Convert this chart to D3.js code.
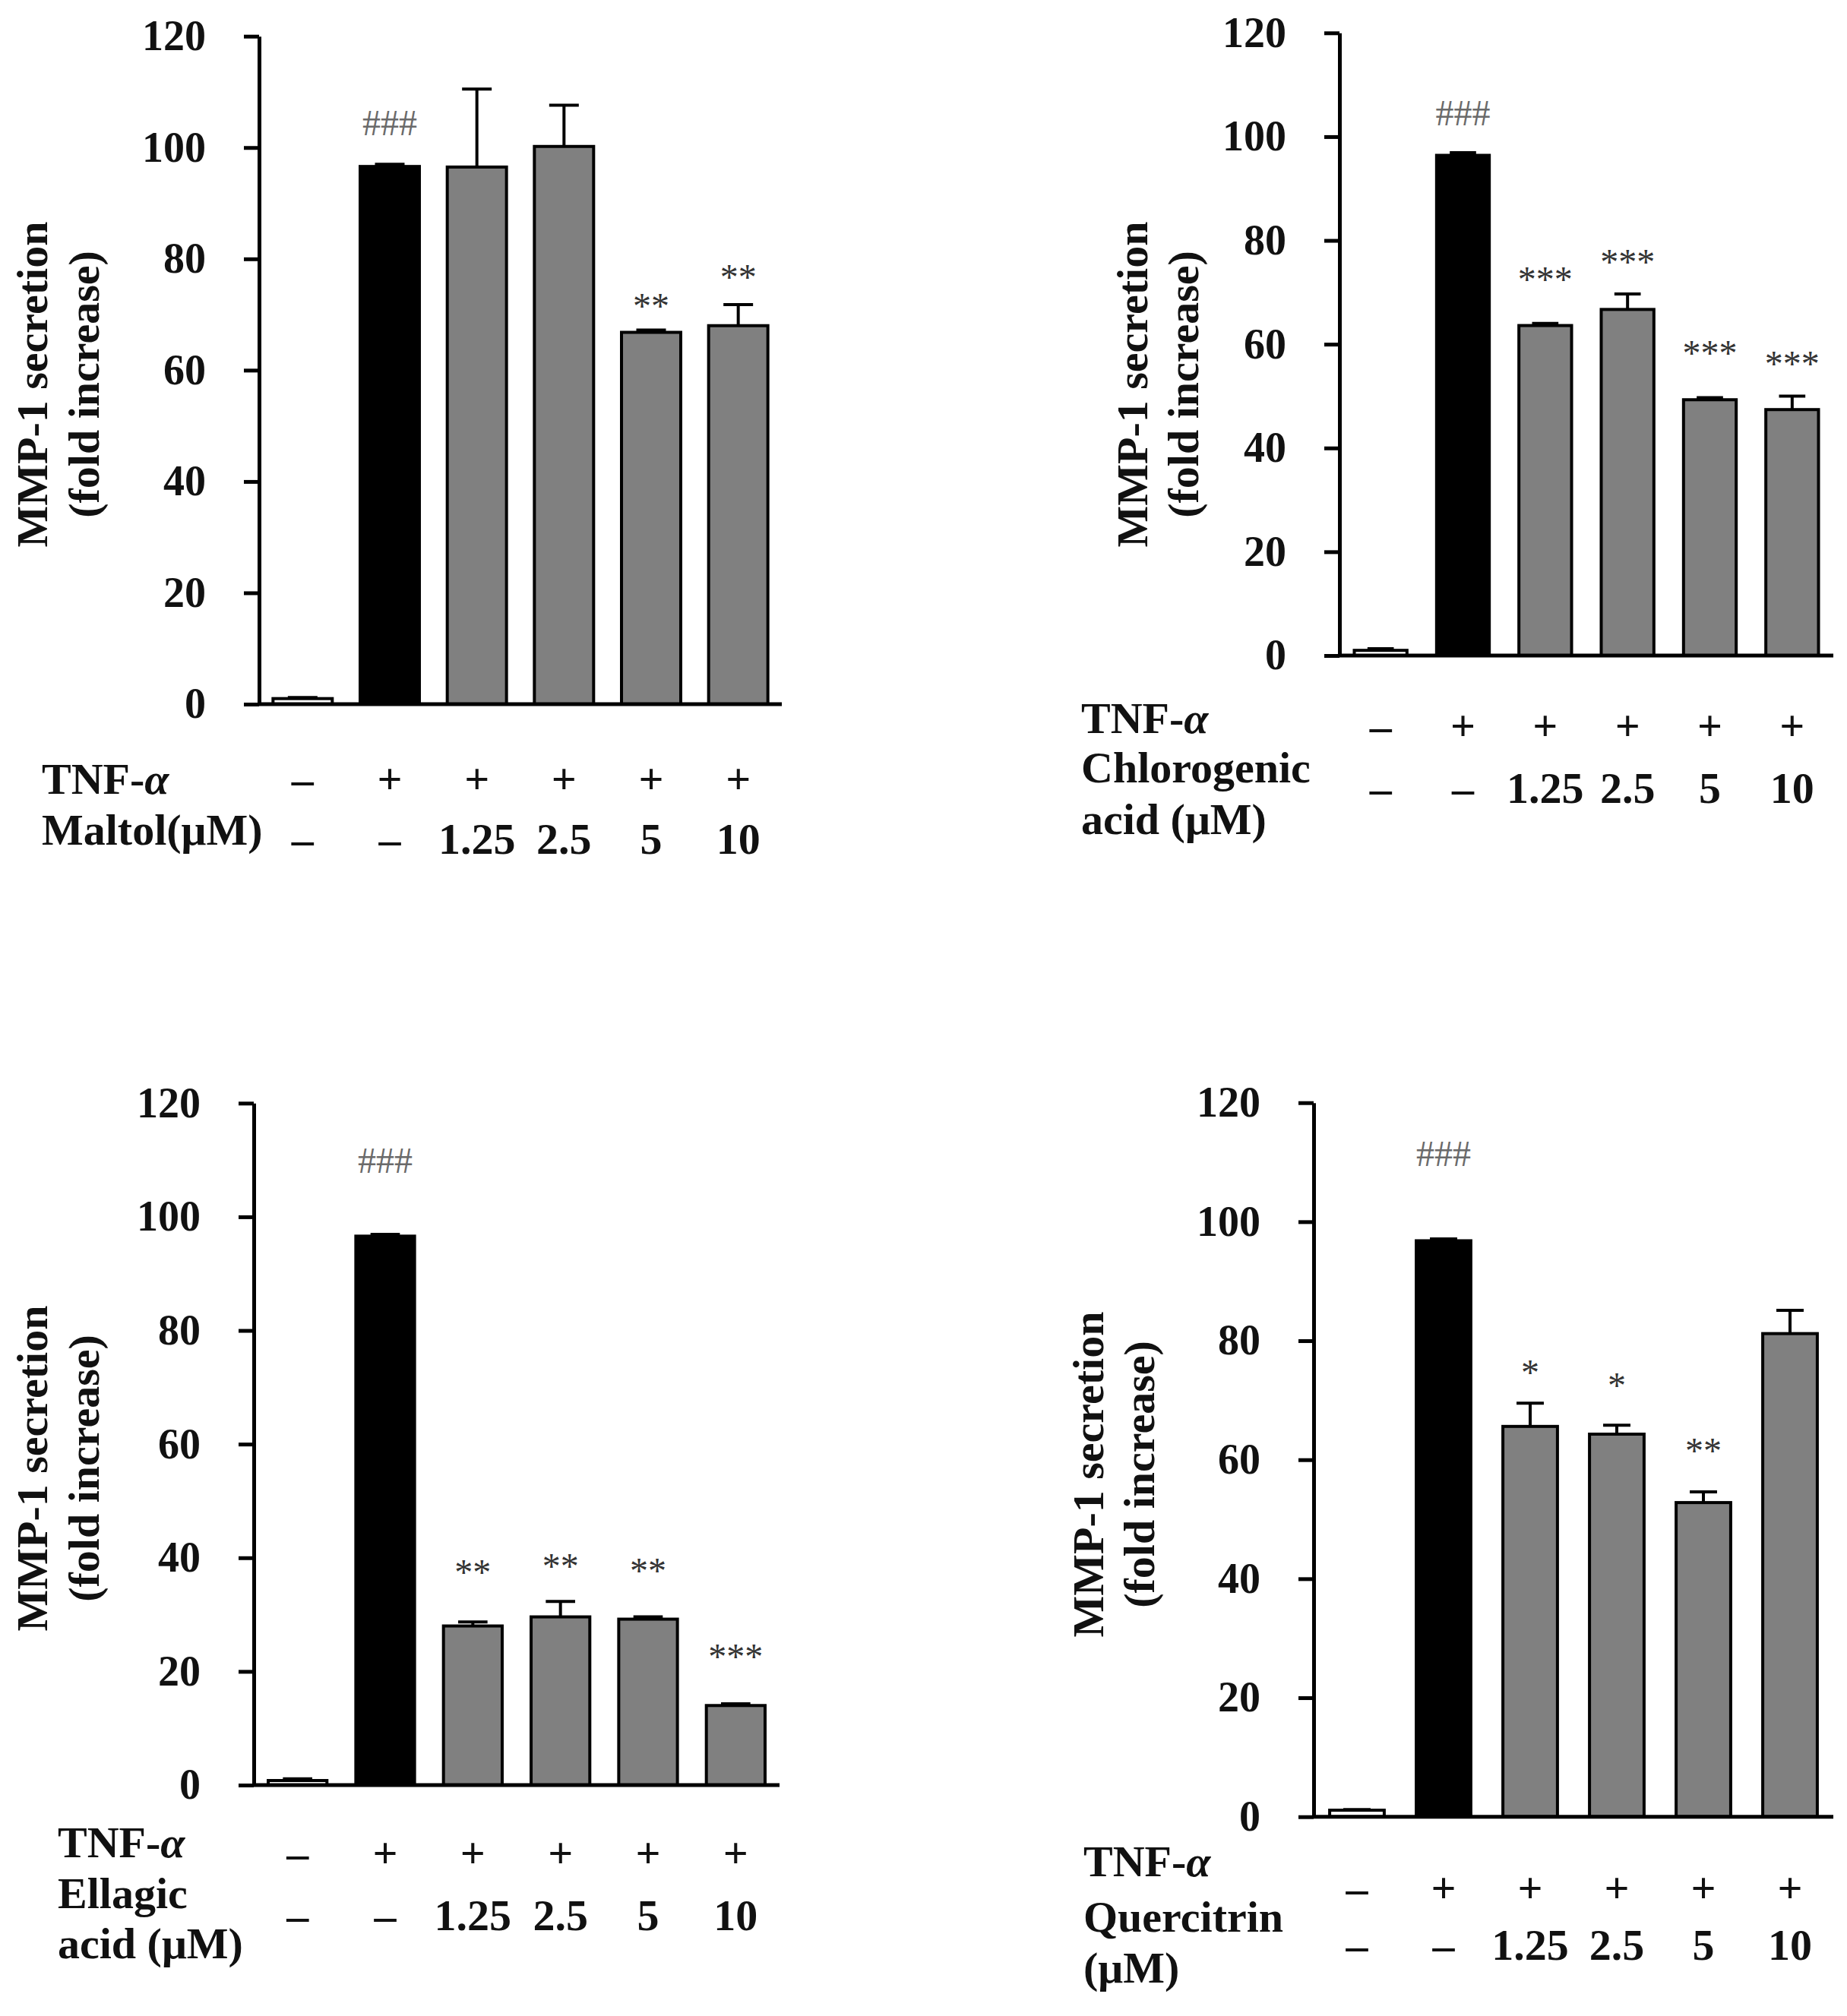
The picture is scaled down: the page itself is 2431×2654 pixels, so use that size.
<!DOCTYPE html>
<html>
<head>
<meta charset="utf-8">
<script src="https://cdn.jsdelivr.net/npm/d3@7"></script>
<style>
  body { margin: 0; background: #fff; }
  text { font-family: "Liberation Serif", "Times New Roman", serif; }
</style>
</head>
<body>
<svg id="canvas" width="2431" height="2654"></svg>
<script>
const canvas = d3.select("#canvas");

// shared categories / row labels
const groups = ["ctrl", "tnf", "d1", "d2", "d3", "d4"];
const tnfRow = ["–", "+", "+", "+", "+", "+"];
const doseRow = ["–", "–", "1.25", "2.5", "5", "10"];
const yTicks = [0, 20, 40, 60, 80, 100, 120];
const yTitle = ["MMP-1 secretion", "(fold increase)"];

// Maltol
const maltolMean = [1.0, 96.6, 96.5, 100.2, 66.8, 68.0];
const maltolErr = [0.2, 0.4, 14.0, 7.4, 0.4, 3.8];
const maltolMarks = ["", "###", "", "", "**", "**"];
const maltolMarkAt = [0, 104.4, 0, 0, 72.6, 77.8];
const maltolLabel = ["Maltol(μM)"];

// Chlorogenic acid
const chloroMean = [1.0, 96.4, 63.6, 66.7, 49.3, 47.4];
const chloroErr = [0.3, 0.5, 0.4, 3.0, 0.4, 2.6];
const chloroMarks = ["", "###", "***", "***", "***", "***"];
const chloroMarkAt = [0, 104.6, 73.6, 77.0, 59.5, 57.4];
const chloroLabel = ["Chlorogenic", "acid (μM)"];

// Ellagic acid
const ellagMean = [0.8, 96.6, 28.0, 29.6, 29.2, 14.0];
const ellagErr = [0.3, 0.3, 0.7, 2.7, 0.4, 0.3];
const ellagMarks = ["", "###", "**", "**", "**", "***"];
const ellagMarkAt = [0, 109.9, 38.5, 39.6, 38.8, 23.7];
const ellagLabel = ["Ellagic", "acid (μM)"];

// Quercitrin
const quercMean = [1.1, 96.8, 65.6, 64.3, 52.8, 81.2];
const quercErr = [0.1, 0.3, 3.9, 1.5, 1.8, 3.9];
const quercMarks = ["", "###", "*", "*", "**", ""];
const quercMarkAt = [0, 111.5, 75.7, 73.5, 62.5, 0];
const quercLabel = ["Quercitrin", "(μM)"];

const fills = ["#ffffff", "#000000", "#808080", "#808080", "#808080", "#808080"];

// layout for each panel (pixel geometry only)
const panels = [
  { mean: maltolMean, err: maltolErr, marks: maltolMarks, markAt: maltolMarkAt, label: maltolLabel,
    x0: 341, x1: 1029, yBot: 927, yTop: 47.7, pad: 0.32,
    titleY: 506, titleX: [62, 130],
    labelX: 55, tnfBase: 1045, labelBase: [1112], rowBase: [1045, 1124] },
  { mean: chloroMean, err: chloroErr, marks: chloroMarks, markAt: chloroMarkAt, label: chloroLabel,
    x0: 1763, x1: 2413, yBot: 863, yTop: 43.3, pad: 0.36,
    titleY: 506, titleX: [1510, 1577],
    labelX: 1423, tnfBase: 965, labelBase: [1030, 1098], rowBase: [975, 1057] },
  { mean: ellagMean, err: ellagErr, marks: ellagMarks, markAt: ellagMarkAt, label: ellagLabel,
    x0: 334, x1: 1026, yBot: 2350, yTop: 1452.3, pad: 0.33,
    titleY: 1933, titleX: [62, 130],
    labelX: 76, tnfBase: 2445, labelBase: [2512, 2578], rowBase: [2459, 2541] },
  { mean: quercMean, err: quercErr, marks: quercMarks, markAt: quercMarkAt, label: quercLabel,
    x0: 1729, x1: 2413, yBot: 2391.7, yTop: 1451.7, pad: 0.37,
    titleY: 1941, titleX: [1452, 1519],
    labelX: 1426, tnfBase: 2470, labelBase: [2543, 2610], rowBase: [2505, 2580] }
];

const FS = 58;

const drawPanel = (p) => {
  const g = canvas.append("g");

  const x = d3.scaleBand()
    .domain(groups)
    .range([p.x0, p.x1])
    .paddingInner(p.pad)
    .paddingOuter(p.pad / 2);

  const y = d3.scaleLinear()
    .domain([0, 120])
    .range([p.yBot, p.yTop]);

  const rows = groups.map((k, i) => ({ k, i, v: p.mean[i], e: p.err[i] }));

  // bars
  g.selectAll("rect.bar")
    .data(rows)
    .join("rect")
    .attr("class", "bar")
    .attr("x", d => x(d.k))
    .attr("width", x.bandwidth())
    .attr("y", d => y(d.v))
    .attr("height", d => y(0) - y(d.v))
    .style("fill", d => fills[d.i])
    .style("stroke", "#000")
    .style("stroke-width", 4);

  // error bars (upper only)
  const cap = x.bandwidth() * 0.5;
  g.selectAll("line.err")
    .data(rows)
    .join("line")
    .attr("class", "err")
    .attr("x1", d => x(d.k) + x.bandwidth() / 2)
    .attr("x2", d => x(d.k) + x.bandwidth() / 2)
    .attr("y1", d => y(d.v))
    .attr("y2", d => y(d.v + d.e))
    .style("stroke", "#000")
    .style("stroke-width", 4);

  g.selectAll("line.cap")
    .data(rows)
    .join("line")
    .attr("class", "cap")
    .attr("x1", d => x(d.k) + x.bandwidth() / 2 - cap / 2)
    .attr("x2", d => x(d.k) + x.bandwidth() / 2 + cap / 2)
    .attr("y1", d => y(d.v + d.e))
    .attr("y2", d => y(d.v + d.e))
    .style("stroke", "#000")
    .style("stroke-width", 4);

  // significance marks
  g.selectAll("text.mark")
    .data(rows.filter(d => p.marks[d.i] !== ""))
    .join("text")
    .attr("class", "mark")
    .attr("x", d => x(d.k) + x.bandwidth() / 2)
    .attr("y", d => y(p.markAt[d.i]))
    .attr("dy", d => p.marks[d.i][0] === "#" ? "0.34em" : "0.5em")
    .attr("text-anchor", "middle")
    .style("font-size", "48px")
    .style("fill", d => p.marks[d.i][0] === "#" ? "#6a6a6a" : "#333")
    .text(d => p.marks[d.i]);

  // y axis
  const yAxis = g.append("g")
    .attr("transform", `translate(${p.x0},0)`)
    .call(d3.axisLeft(y).tickValues(yTicks).tickSize(20).tickSizeOuter(0).tickPadding(50));
  yAxis.select(".domain").style("stroke", "#000").style("stroke-width", 5);
  yAxis.selectAll(".tick line").style("stroke", "#000").style("stroke-width", 5);
  yAxis.selectAll(".tick text")
    .style("font-family", '"Liberation Serif", "Times New Roman", serif')
    .style("font-size", "56px")
    .style("font-weight", "bold")
    .style("fill", "#111");

  // x baseline
  g.append("line")
    .attr("x1", p.x0)
    .attr("x2", p.x1)
    .attr("y1", y(0))
    .attr("y2", y(0))
    .style("stroke", "#000")
    .style("stroke-width", 5);

  // y title
  yTitle.forEach((t, j) => {
    g.append("text")
      .attr("transform", `translate(${p.titleX[j]},${p.titleY}) rotate(-90)`)
      .attr("text-anchor", "middle")
      .style("font-size", FS + "px")
      .style("font-weight", "bold")
      .style("fill", "#111")
      .text(t);
  });

  // treatment rows
  const tnf = g.append("text")
    .attr("x", p.labelX)
    .attr("y", p.tnfBase)
    .style("font-size", FS + "px")
    .style("font-weight", "bold")
    .style("fill", "#111");
  tnf.append("tspan").text("TNF-");
  tnf.append("tspan").style("font-style", "italic").text("α");

  p.label.forEach((t, j) => {
    g.append("text")
      .attr("x", p.labelX)
      .attr("y", p.labelBase[j])
      .style("font-size", FS + "px")
      .style("font-weight", "bold")
      .style("fill", "#111")
      .text(t);
  });

  [tnfRow, doseRow].forEach((row, r) => {
    g.selectAll("text.row" + r)
      .data(rows)
      .join("text")
      .attr("class", "row" + r)
      .attr("x", d => x(d.k) + x.bandwidth() / 2)
      .attr("y", p.rowBase[r])
      .attr("text-anchor", "middle")
      .style("font-size", FS + "px")
      .style("font-weight", "bold")
      .style("fill", "#111")
      .text(d => row[d.i]);
  });
};

panels.forEach(drawPanel);
</script>
</body>
</html>
